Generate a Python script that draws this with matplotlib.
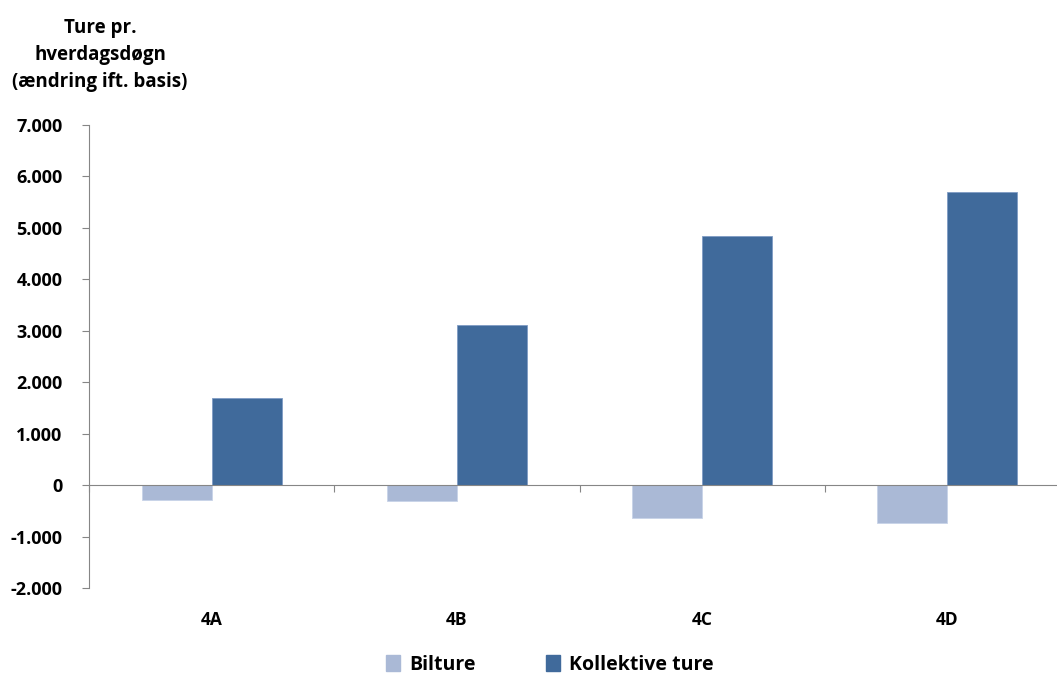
import numpy as np
import matplotlib
matplotlib.use('Agg')
import matplotlib.pyplot as plt
from matplotlib.ticker import FuncFormatter
from matplotlib.patches import Patch

# Data
categories = ['4A', '4B', '4C', '4D']
bilture = [-290, -300, -640, -745]
kollektive = [1700, 3110, 4850, 5690]
series_names = ['Bilture', 'Kollektive ture']

light = '#AAB9D6'
dark = '#406A9B'
axis_col = '#868686'

plt.rcParams['font.family'] = ['Open Sans', 'DejaVu Sans']
plt.rcParams['font.weight'] = 'bold'

fig = plt.figure(figsize=(10.57, 6.75), dpi=100)
W, H = 1057.0, 675.0
# axes placed in pixel coordinates of the reference
left, right, top, bottom = 89, 1070, 125, 588
ax = fig.add_axes([left / W, 1 - bottom / H, (right - left) / W, (bottom - top) / H])

x = np.arange(len(categories))
bw = 0.285
ax.bar(x - bw / 2, bilture, bw, color=light, edgecolor='#C8D3E8', linewidth=0.6)
ax.bar(x + bw / 2, kollektive, bw, color=dark, edgecolor='#7F9CC4', linewidth=0.6)

ax.set_xlim(-0.5, len(categories) - 0.5)
ax.set_ylim(-2000, 7000)
ax.set_yticks(np.arange(-2000, 7001, 1000))
ax.yaxis.set_major_formatter(FuncFormatter(lambda v, p: '{:,.0f}'.format(v).replace(',', '.')))
ax.tick_params(axis='y', direction='out', length=5, color=axis_col, labelsize=13, pad=14)
for lab in ax.get_yticklabels():
    lab.set_fontweight('bold')

for s in ['top', 'right']:
    ax.spines[s].set_visible(False)
ax.spines['left'].set_color(axis_col)
ax.spines['bottom'].set_position(('data', 0))
ax.spines['bottom'].set_color(axis_col)
ax.set_xticks(np.arange(-0.5, len(categories) + 0.5, 1))
ax.set_xticklabels([])
ax.tick_params(axis='x', direction='out', length=5, color=axis_col)

# category labels under the plot area
for i, c in enumerate(categories):
    ax.text(i, -2440, c, ha='center', va='top', fontsize=12.5, fontweight='bold', clip_on=False)

fig.text(100 / W, 1 - 55 / H, 'Ture pr.\nhverdagsdøgn\n(ændring ift. basis)',
         ha='center', va='center', fontsize=13.5, fontweight='bold', linespacing=1.45)

handles = [Patch(color=light), Patch(color=dark)]
fig.legend(handles, series_names, loc='center', bbox_to_anchor=(550 / W, 1 - 665 / H),
           ncol=2, frameon=False, handlelength=0.7, handleheight=0.9,
           handletextpad=0.5, columnspacing=3.6, prop={'weight': 'bold', 'size': 14})

fig.savefig('out.png', dpi=100)
